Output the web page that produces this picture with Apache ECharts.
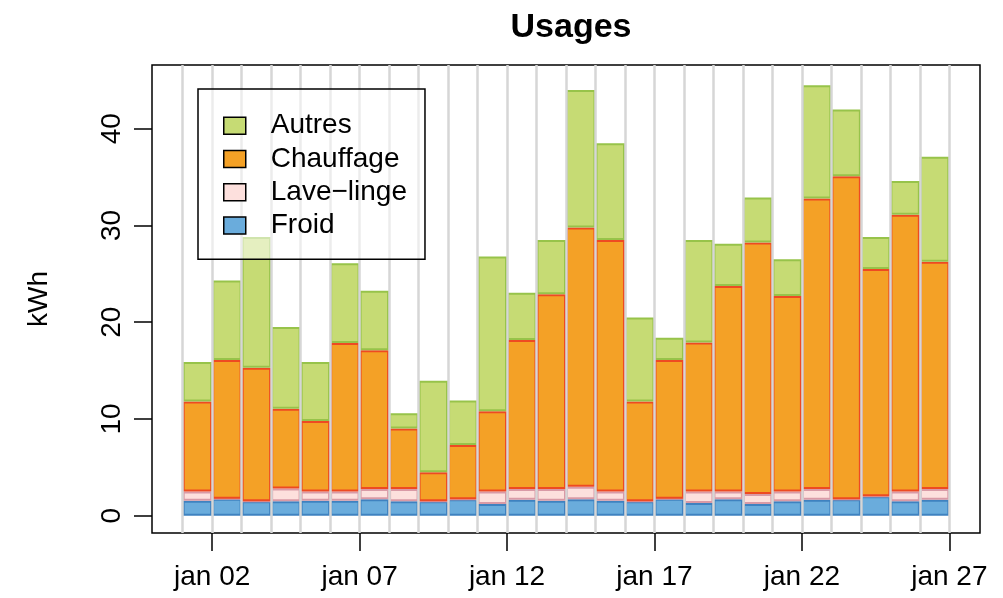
<!DOCTYPE html>
<html>
<head>
<meta charset="utf-8">
<script src="https://cdn.jsdelivr.net/npm/echarts@6/dist/echarts.min.js"></script>
<style>
  html, body { margin: 0; padding: 0; background: #fff; }
  #chart { width: 1003px; height: 598px; }
</style>
</head>
<body>
<div id="chart"></div>
<script>
// daily consumption, kWh
const days = ['jan 01', 'jan 02', 'jan 03', 'jan 04', 'jan 05', 'jan 06', 'jan 07', 'jan 08', 'jan 09',
  'jan 10', 'jan 11', 'jan 12', 'jan 13', 'jan 14', 'jan 15', 'jan 16', 'jan 17', 'jan 18', 'jan 19',
  'jan 20', 'jan 21', 'jan 22', 'jan 23', 'jan 24', 'jan 25', 'jan 26'];
const froid = [1.55, 1.75, 1.5, 1.5, 1.55, 1.55, 1.7, 1.5, 1.5, 1.7, 1.2, 1.65, 1.55,
  1.7, 1.55, 1.5, 1.75, 1.3, 1.7, 1.2, 1.5, 1.65, 1.7, 2.0, 1.5, 1.65];
const laveLinge = [0.95, 0, 0, 1.3, 0.95, 0.95, 1.05, 1.25, 0, 0, 1.3, 1.1, 1.2,
  1.3, 0.95, 0, 0, 1.2, 0.8, 1.05, 1.0, 1.1, 0, 0, 1.0, 1.1];
const chauffage = [9.3, 14.35, 13.8, 8.25, 7.3, 15.35, 14.35, 6.25, 3.0, 5.6, 8.3, 15.4, 20.15,
  26.8, 26.0, 10.3, 14.35, 15.4, 21.25, 26.0, 20.2, 30.05, 33.4, 23.5, 28.6, 23.5];
const autres = [4.1, 8.2, 13.5, 8.45, 6.1, 8.25, 6.15, 1.6, 9.45, 4.6, 16.0, 4.9, 5.6,
  14.2, 10.0, 8.7, 2.3, 10.6, 4.35, 4.65, 3.8, 11.7, 6.9, 3.3, 3.5, 10.85];

const tickDays = [1, 6, 11, 16, 21, 26];
const tickLabels = ['jan 02', 'jan 07', 'jan 12', 'jan 17', 'jan 22', 'jan 27'];
const yTicks = [0, 10, 20, 30, 40];

// R pads each axis range by 4%
const xMin = -1.04, xMax = days.length + 1.04;
const yMin = -1.79, yMax = 46.59;

const box = { left: 152, top: 65, width: 828, height: 468 };
const pxPerDay = box.width / (xMax - xMin);
const barsLeft = box.left + (0 - xMin) * pxPerDay;
const barsWidth = days.length * pxPerDay;

const font = '"Liberation Sans", Arial, Helvetica, sans-serif';
const minus = '\u2212';

const chart = echarts.init(document.getElementById('chart'));

const layers = [
  { name: 'Froid', data: froid, color: '#6aacdc', border: '#3f82c0' },
  { name: 'Lave' + minus + 'linge', data: laveLinge, color: '#fde0dd', border: '#d99aa6' },
  { name: 'Chauffage', data: chauffage, color: '#f4a126', border: '#ee4a22' },
  { name: 'Autres', data: autres, color: '#c6db74', border: '#97c34a' }
];

chart.setOption({
  animation: false,
  textStyle: { fontFamily: font },
  title: {
    text: 'Usages',
    left: box.left + box.width / 2,
    textAlign: 'center',
    top: 6,
    textStyle: { fontFamily: font, fontSize: 34, fontWeight: 'bold', color: '#000' }
  },
  legend: {
    orient: 'vertical',
    left: 198,
    top: 89,
    padding: [20, 18, 17, 25],
    itemGap: 0,
    itemWidth: 22,
    itemHeight: 17,
    selectedMode: false,
    backgroundColor: 'rgba(255,255,255,0.55)',
    borderColor: '#000',
    borderWidth: 1.5,
    borderRadius: 0,
    icon: 'rect',
    itemStyle: { borderColor: '#000', borderWidth: 1.5 },
    textStyle: { fontFamily: font, fontSize: 28, color: '#000', lineHeight: 33.3, padding: [0, 0, 0, 20] },
    data: ['Autres', 'Chauffage', 'Lave' + minus + 'linge', 'Froid']
  },
  grid: [
    { left: box.left, top: box.top, width: box.width, height: box.height,
      show: true, borderColor: '#000', borderWidth: 1.5, backgroundColor: 'transparent' },
    { left: barsLeft, top: box.top, width: barsWidth, height: box.height }
  ],
  xAxis: [
    {
      gridIndex: 0, type: 'value', min: xMin, max: xMax, position: 'bottom',
      axisLine: { show: false, onZero: false },
      splitLine: { show: false },
      axisTick: { show: true, customValues: tickDays, length: 18, lineStyle: { color: '#000', width: 1.5 } },
      axisLabel: {
        customValues: tickDays, margin: 30, fontSize: 28, color: '#000', fontFamily: font,
        formatter: v => tickLabels[tickDays.indexOf(Math.round(v))]
      }
    },
    {
      gridIndex: 1, type: 'category', data: days, boundaryGap: true, z: 3,
      axisLine: { show: false, onZero: false }, axisTick: { show: false }, axisLabel: { show: false },
      splitLine: { show: true, interval: 0, lineStyle: { color: '#d6d6d6', width: 2.5 } }
    }
  ],
  yAxis: [
    {
      gridIndex: 0, type: 'value', min: yMin, max: yMax, position: 'left',
      name: 'kWh', nameLocation: 'middle', nameRotate: 90, nameGap: 99,
      nameTextStyle: { fontFamily: font, fontSize: 28, color: '#000' },
      axisLine: { show: false, onZero: false },
      splitLine: { show: false },
      axisTick: { show: true, customValues: yTicks, length: 18, lineStyle: { color: '#000', width: 1.5 } },
      axisLabel: { customValues: yTicks, rotate: 90, margin: 26, fontSize: 28, color: '#000', fontFamily: font }
    },
    { gridIndex: 1, type: 'value', min: yMin, max: yMax, show: false }
  ],
  series: layers.map(l => ({
    name: l.name,
    type: 'bar',
    stack: 'usages',
    xAxisIndex: 1,
    yAxisIndex: 1,
    barCategoryGap: '0%',
    data: l.data,
    itemStyle: { color: l.color, borderColor: l.border, borderWidth: 2 }
  }))
});
</script>
</body>
</html>
